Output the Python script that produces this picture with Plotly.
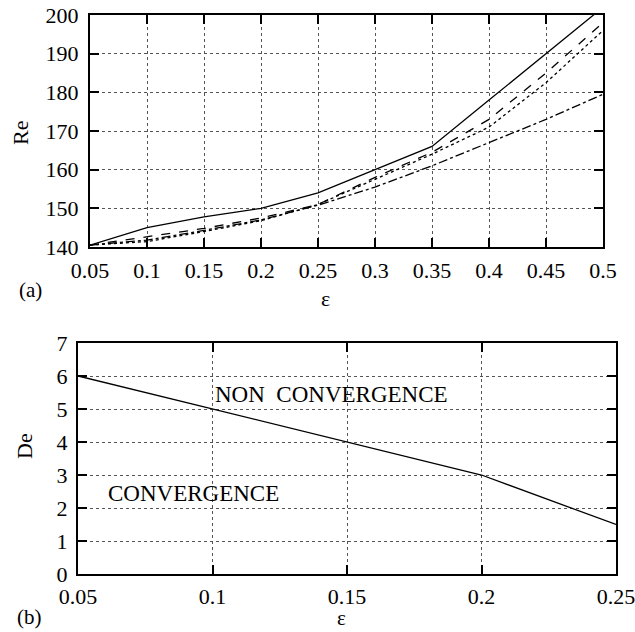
import plotly.graph_objects as go

# ---- data: panel (a) ----
eps_a = [0.05, 0.1, 0.15, 0.2, 0.25, 0.3, 0.35, 0.4, 0.45, 0.5]
re_solid = [140.5, 145, 147.8, 150, 154, 160, 166, 178, 190, 202]
re_dashed = [140.5, 142.7, 144.8, 147.5, 151, 158, 164.5, 173, 185, 198]
re_dotted = [140.5, 141.4, 144, 146.8, 151, 157.5, 164, 171, 182.5, 196]
re_dashdot = [140.5, 141.8, 144.3, 147, 150.8, 155.5, 161, 167, 173, 179.5]
xticks_a = [0.05, 0.1, 0.15, 0.2, 0.25, 0.3, 0.35, 0.4, 0.45, 0.5]
xticktext_a = ["0.05", "0.1", "0.15", "0.2", "0.25", "0.3", "0.35", "0.4", "0.45", "0.5"]
yticks_a = [140, 150, 160, 170, 180, 190, 200]

# ---- data: panel (b) ----
eps_b = [0.05, 0.1, 0.15, 0.2, 0.25]
de_b = [6, 5, 4, 3, 1.5]
xticks_b = [0.05, 0.1, 0.15, 0.2, 0.25]
xticktext_b = ["0.05", "0.1", "0.15", "0.2", "0.25"]
yticks_b = [0, 1, 2, 3, 4, 5, 6, 7]

W, H = 635, 632
FONT = "Liberation Serif"
TICKSIZE = 22

def px_x(p):
    return p / W

def px_y(p):
    return 1 - p / H

fig = go.Figure()

line_w = 1.3
for ys, dash in [(re_solid, "solid"), (re_dashed, "dash"), (re_dotted, "dot"), (re_dashdot, "dashdot")]:
    fig.add_trace(go.Scatter(x=eps_a, y=ys, mode="lines", xaxis="x", yaxis="y",
                             line=dict(color="black", width=line_w, dash=dash),
                             showlegend=False, hoverinfo="skip"))

fig.add_trace(go.Scatter(x=eps_b, y=de_b, mode="lines", xaxis="x2", yaxis="y2",
                         line=dict(color="black", width=line_w),
                         showlegend=False, hoverinfo="skip"))

common_axis = dict(
    showline=True, linecolor="black", linewidth=2, mirror="ticks",
    ticks="inside", ticklen=9, tickwidth=2, tickcolor="black",
    showgrid=True, gridcolor="#555", gridwidth=1, griddash="dot",
    zeroline=False, automargin=False, ticklabeloverflow="allow",
    tickfont=dict(family=FONT, size=TICKSIZE, color="black"),
)

fig.update_layout(
    width=W, height=H, autosize=False,
    margin=dict(l=0, r=0, t=0, b=0, pad=0, autoexpand=False),
    paper_bgcolor="white", plot_bgcolor="white",
    font=dict(family=FONT, color="black"),
    xaxis=dict(common_axis, domain=[px_x(90), px_x(603)], anchor="y",
               range=[0.05, 0.5], tickvals=xticks_a, ticktext=xticktext_a,
               ticklabelstandoff=3),
    yaxis=dict(common_axis, domain=[px_y(247), px_y(15)], anchor="x",
               range=[140, 200], tickvals=yticks_a, ticklabelstandoff=5),
    xaxis2=dict(common_axis, domain=[px_x(78), px_x(616)], anchor="y2",
                range=[0.05, 0.25], tickvals=xticks_b, ticktext=xticktext_b,
                ticklabelstandoff=2),
    yaxis2=dict(common_axis, domain=[px_y(574), px_y(343)], anchor="x2",
                range=[0, 7], tickvals=yticks_b, ticklabelstandoff=4),
)

def label(text, x, y, size=22, angle=0):
    fig.add_annotation(text=text, x=px_x(x), y=px_y(y), xref="paper", yref="paper",
                       showarrow=False, xanchor="center", yanchor="middle",
                       textangle=angle, font=dict(family=FONT, size=size, color="black"))

label("Re", 20, 133, size=22, angle=-90)
label("ε", 325, 298, size=22)
label("(a)", 30, 290, size=21)
label("De", 24, 446, size=22, angle=-90)
label("ε", 341, 618, size=21)
label("(b)", 29, 617, size=21)

fig.add_annotation(text="NON  CONVERGENCE", x=0.1444, y=5.45, xref="x2", yref="y2",
                   showarrow=False, xanchor="center", yanchor="middle",
                   font=dict(family=FONT, size=23, color="black"))
fig.add_annotation(text="CONVERGENCE", x=0.0929, y=2.45, xref="x2", yref="y2",
                   showarrow=False, xanchor="center", yanchor="middle",
                   font=dict(family=FONT, size=23, color="black"))

fig.write_html("out.html")
